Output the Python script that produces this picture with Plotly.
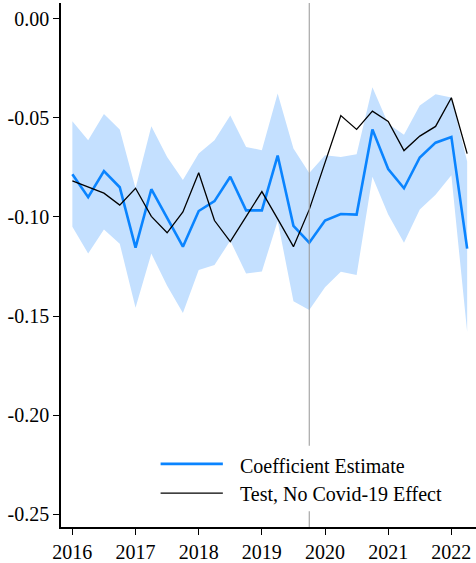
import plotly.graph_objects as go

quarters = [2016 + 0.25 * i for i in range(26)]

coef = [-0.0785, -0.090, -0.0768, -0.085, -0.1155, -0.086, -0.1005, -0.115, -0.097, -0.092,
        -0.0797, -0.0967, -0.0967, -0.069, -0.1045, -0.113, -0.1018, -0.0985, -0.0988, -0.0558,
        -0.0758, -0.0855, -0.070, -0.0625, -0.0596, -0.116]

test = [-0.0818, -0.085, -0.088, -0.094, -0.0855, -0.0997, -0.108, -0.0975, -0.0777, -0.1018,
        -0.1125, -0.0998, -0.0872, -0.101, -0.115, -0.0963, -0.072, -0.0488, -0.0558, -0.0466,
        -0.0518, -0.0665, -0.0592, -0.0543, -0.0398, -0.068]

upper = [-0.0517, -0.0613, -0.048, -0.0558, -0.0855, -0.0542, -0.0697, -0.0813, -0.068, -0.0613,
         -0.0488, -0.0647, -0.0663, -0.0377, -0.0655, -0.0778, -0.0688, -0.0697, -0.0683, -0.0345,
         -0.053, -0.0585, -0.0438, -0.038, -0.0397, -0.072]

lower = [-0.105, -0.1185, -0.1063, -0.1135, -0.1458, -0.1185, -0.1347, -0.1485, -0.1268, -0.1242,
         -0.112, -0.1285, -0.1275, -0.102, -0.1425, -0.147, -0.1355, -0.1277, -0.1293, -0.0797,
         -0.0988, -0.113, -0.0962, -0.0888, -0.079, -0.158]

x_ticks = [2016, 2017, 2018, 2019, 2020, 2021, 2022]
x_ticktext = ["2016", "2017", "2018", "2019", "2020", "2021", "2022"]
y_ticks = [0.0, -0.05, -0.10, -0.15, -0.20, -0.25]
y_ticktext = ["0.00", "-0.05", "-0.10", "-0.15", "-0.20", "-0.25"]
covid_start = 2019.75
legend_labels = ["Coefficient Estimate", "Test, No Covid-19 Effect"]

BLUE = "rgb(10,132,255)"
BAND = "rgb(196,224,255)"
FONT = "Liberation Serif, Times New Roman, serif"

fig = go.Figure()
fig.add_trace(go.Scatter(x=quarters, y=upper, mode="lines", line=dict(width=0),
                         hoverinfo="skip", showlegend=False))
fig.add_trace(go.Scatter(x=quarters, y=lower, mode="lines", line=dict(width=0),
                         fill="tonexty", fillcolor=BAND, hoverinfo="skip", showlegend=False))
fig.add_trace(go.Scatter(x=quarters, y=coef, mode="lines", line=dict(color=BLUE, width=2.6),
                         name=legend_labels[0], showlegend=False))
fig.add_trace(go.Scatter(x=quarters, y=test, mode="lines", line=dict(color="black", width=1.3),
                         name=legend_labels[1], showlegend=False))

shapes = [
    dict(type="line", xref="x", yref="paper", x0=covid_start, x1=covid_start, y0=0, y1=1,
         line=dict(color="rgb(150,150,150)", width=1), layer="above"),
    dict(type="rect", xref="paper", yref="paper", x0=0.214, x1=0.95, y0=0.030, y1=0.155,
         fillcolor="white", line=dict(width=0), layer="above"),
    dict(type="line", xref="paper", yref="paper", x0=0.240, x1=0.390, y0=0.1204, y1=0.1204,
         line=dict(color=BLUE, width=2.6), layer="above"),
    dict(type="line", xref="paper", yref="paper", x0=0.240, x1=0.390, y0=0.0648, y1=0.0648,
         line=dict(color="black", width=1.3), layer="above"),
]
annotations = [
    dict(xref="paper", yref="paper", x=0.426, y=0.1172, text=legend_labels[0], showarrow=False,
         xanchor="left", yanchor="middle", font=dict(family=FONT, size=20, color="black")),
    dict(xref="paper", yref="paper", x=0.426, y=0.0624, text=legend_labels[1], showarrow=False,
         xanchor="left", yanchor="middle", font=dict(family=FONT, size=20, color="black")),
]

fig.update_layout(
    width=476, height=563,
    margin=dict(l=61, r=0, t=3, b=31),
    paper_bgcolor="white", plot_bgcolor="white",
    showlegend=False,
    font=dict(family=FONT, size=20, color="black"),
    shapes=shapes, annotations=annotations,
    xaxis=dict(range=[2015.82, 2022.39], tickvals=x_ticks, ticktext=x_ticktext,
               showline=True, linecolor="black", linewidth=1.5, ticks="outside",
               ticklen=6, tickcolor="black", showgrid=False, zeroline=False),
    yaxis=dict(range=[-0.2565, 0.008], tickvals=y_ticks, ticktext=y_ticktext,
               showline=True, linecolor="black", linewidth=1.5, ticks="outside",
               ticklen=6, tickcolor="black", showgrid=False, zeroline=False),
)

fig.write_html("out.html")
